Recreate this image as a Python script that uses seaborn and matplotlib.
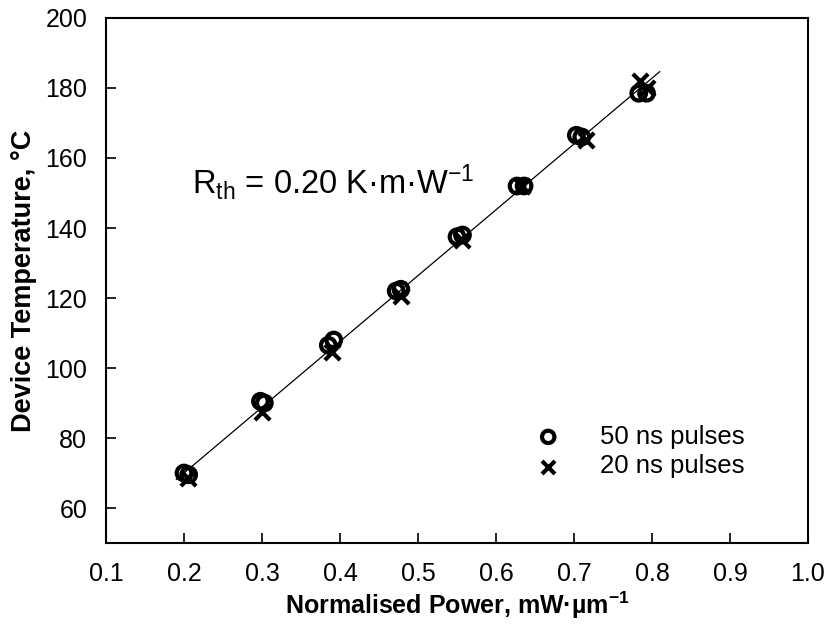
import numpy as np
import pandas as pd
import matplotlib
matplotlib.use("Agg")
import matplotlib.pyplot as plt
import seaborn as sns

# 50 ns pulses (circles)
power_50 = [0.200, 0.206, 0.298, 0.303, 0.385, 0.392, 0.472, 0.478, 0.550, 0.557,
            0.627, 0.636, 0.703, 0.710, 0.783, 0.793]
temp_50 = [70.0, 69.5, 90.5, 90.0, 106.5, 108.0, 122.0, 122.5, 137.5, 138.0,
           152.0, 152.0, 166.5, 166.0, 178.5, 178.5]
# 20 ns pulses (crosses)
power_20 = [0.205, 0.300, 0.390, 0.478, 0.557, 0.633, 0.715, 0.785, 0.793]
temp_20 = [68.5, 87.5, 104.5, 120.5, 136.5, 152.0, 165.0, 182.0, 180.0]

xticks = [0.1, 0.2, 0.3, 0.4, 0.5, 0.6, 0.7, 0.8, 0.9, 1.0]
yticks = [60, 80, 100, 120, 140, 160, 180, 200]

sns.set_theme(style="ticks")
plt.rcParams['font.family'] = ['Liberation Sans', 'DejaVu Sans']
plt.rcParams['mathtext.fontset'] = 'custom'
plt.rcParams['mathtext.rm'] = 'Liberation Sans'
plt.rcParams['mathtext.it'] = 'Liberation Sans'
plt.rcParams['mathtext.bf'] = 'Liberation Sans:bold'
plt.rcParams['text.color'] = 'black'
plt.rcParams['axes.labelcolor'] = 'black'

fig = plt.figure(figsize=(8.26, 6.24), dpi=100)
ax = fig.add_axes([106 / 826, 1 - 543 / 624, 702 / 826, 525 / 624])

df50 = pd.DataFrame({"power": power_50, "temp": temp_50})
df20 = pd.DataFrame({"power": power_20, "temp": temp_20})

# fit line
allx = np.array(power_50 + power_20)
ally = np.array(temp_50 + temp_20)
coef = np.polyfit(allx, ally, 1)
xl = np.array([0.19, 0.81])
sns.lineplot(x=xl, y=np.polyval(coef, xl), ax=ax, color="black", lw=0.9, zorder=1)

sns.scatterplot(data=df50, x="power", y="temp", ax=ax, marker="o", s=110,
                facecolor="none", edgecolor="black", linewidth=3.0,
                label="50 ns pulses", zorder=3)
sns.scatterplot(data=df20, x="power", y="temp", ax=ax, marker="x", s=120,
                color="black", linewidth=3.0, label="20 ns pulses", zorder=3)

ax.set_xlim(0.1, 1.0)
ax.set_ylim(50, 200)
ax.set_xticks(xticks)
ax.set_xticklabels([f"{v:.1f}" for v in xticks])
ax.set_yticks(yticks)
ax.tick_params(direction="in", length=7, width=1.2, labelsize=18, pad=13.5,
               colors="black", labelcolor="black")
for s in ax.spines.values():
    s.set_linewidth(1.5)
    s.set_color("black")

ax.set_xlabel("Normalised Power, mW·µm$^{\\mathbf{-1}}$", fontsize=18, fontweight="bold",
              labelpad=3, color="black")
ax.set_ylabel("Device Temperature, °C", fontsize=19.5, fontweight="bold", labelpad=6,
              color="black")

ax.text(0.122, 0.688, r"R$_{\mathrm{th}}$ = 0.20 K·m·W$^{-1}$", transform=ax.transAxes,
        fontsize=23.5, va="center", ha="left", color="black")

leg = ax.legend(loc="upper left", bbox_to_anchor=(0.597, 0.245), borderaxespad=0,
                frameon=False, fontsize=18.5, handlelength=1.0, handletextpad=1.5,
                labelspacing=0.22, markerscale=0.85)
for t in leg.get_texts():
    t.set_color("black")

fig.savefig("out.png", dpi=100)
